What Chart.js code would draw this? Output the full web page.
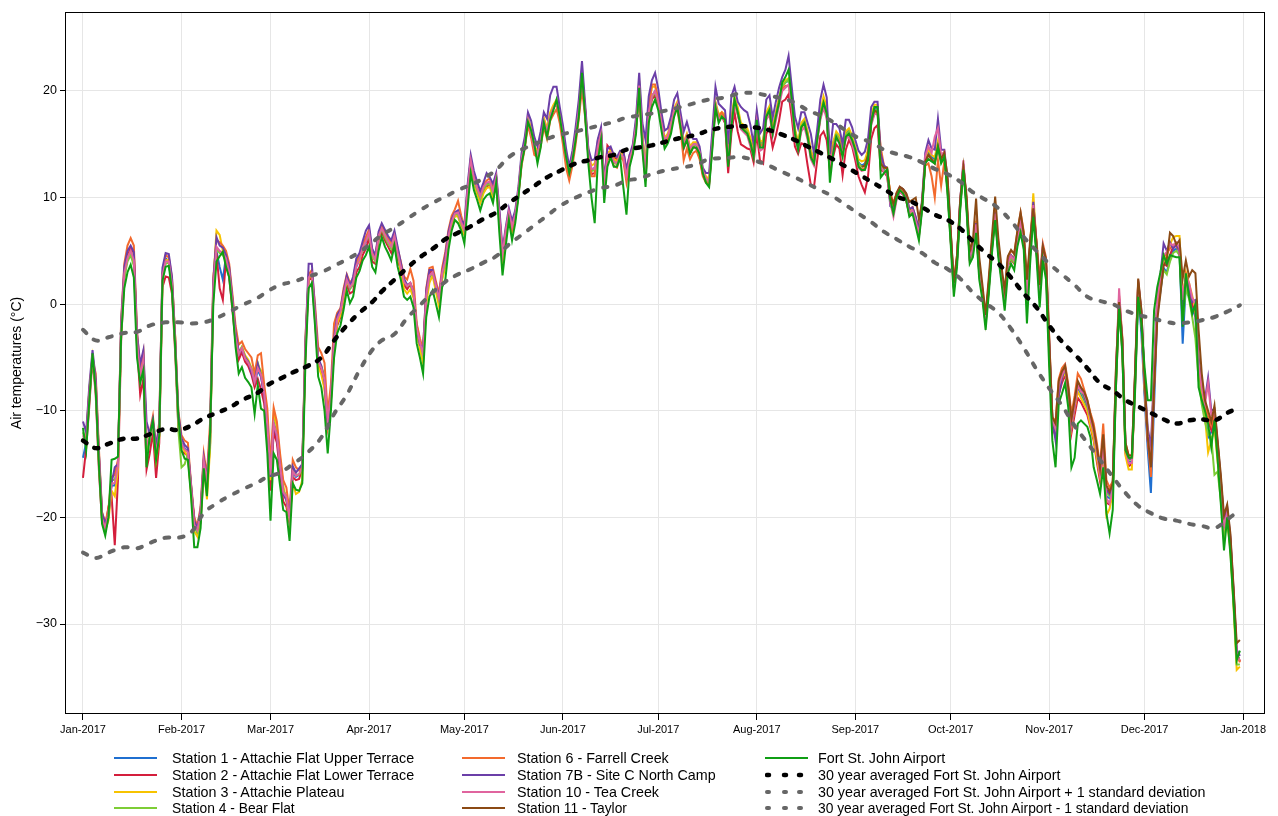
<!DOCTYPE html>
<html>
<head>
<meta charset="utf-8">
<script src="https://cdn.jsdelivr.net/npm/chart.js@4/dist/chart.umd.min.js"></script>
<style>
  html, body { margin: 0; padding: 0; background: #fff; }
  #wrap { position: relative; width: 1278px; height: 816px; }
  #legend { position: absolute; left: 0; top: 0; width: 1278px; height: 816px; pointer-events: none;
            font-family: "Liberation Sans", Arial, sans-serif; color: #000; }
  .lg-text { position: absolute; height: 17px; line-height: 17px; white-space: nowrap; font-size: 14.3px; }
  .lg-text.small { font-size: 13.8px; }
  .lg-sw { position: absolute; }
</style>
</head>
<body>
<div id="wrap">
  <canvas id="myChart" width="1278" height="816"></canvas>
  <div id="legend"></div>
</div>
<script>
// x axis: day of year 2017 (0 = 1 Jan 2017)
const monthStarts = [0, 31, 59, 90, 120, 151, 181, 212, 243, 273, 304, 334, 365];
const monthLabels = ['Jan-2017', 'Feb-2017', 'Mar-2017', 'Apr-2017', 'May-2017', 'Jun-2017',
  'Jul-2017', 'Aug-2017', 'Sep-2017', 'Oct-2017', 'Nov-2017', 'Dec-2017', 'Jan-2018'];
const tempTicks = [-30, -20, -10, 0, 10, 20];

// daily mean air temperatures, 2017 (one value per day from 1 Jan)
const fortStJohn = [
  -11.6,-13.7,-9.0,-4.6,-8.1,-15.0,-20.6,-21.7,-20.0,-14.6,
  -14.5,-14.3,-3.0,1.5,3.0,3.7,2.5,-5.0,-7.4,-6.2,
  -15.3,-12.3,-11.0,-14.6,-12.3,2.2,3.5,3.6,1.3,-4.0,
  -10.6,-13.7,-14.5,-14.6,-18.0,-22.8,-22.8,-21.0,-15.4,-18.0,
  -12.0,0.0,4.0,4.5,4.9,3.5,2.5,-0.3,-4.0,-6.5,
  -5.9,-6.9,-7.3,-7.8,-10.3,-7.6,-9.8,-10.0,-14.0,-20.3,
  -14.0,-14.6,-17.0,-19.3,-19.5,-22.2,-16.8,-17.4,-17.5,-16.8,
  -5.3,1.5,2.0,-2.0,-6.8,-7.8,-10.0,-14.0,-10.0,-5.0,
  -2.7,-2.0,-0.5,1.3,0.1,0.7,2.5,3.1,4.1,4.6,
  5.4,3.5,3.0,5.0,6.3,5.4,4.8,4.1,5.5,3.5,
  2.3,0.7,0.4,0.7,-0.3,-3.7,-5.0,-6.5,-1.2,0.7,
  1.3,0.1,-1.2,1.6,2.3,5.1,6.9,7.9,7.6,6.9,
  5.7,9.0,12.3,10.7,9.8,8.8,9.8,10.2,10.4,9.5,
  11.4,6.7,2.7,5.4,7.9,6.0,7.6,10.0,13.2,14.7,
  17.1,16.3,15.0,13.2,14.7,17.0,15.7,17.3,18.2,19.2,
  17.6,15.7,13.8,12.3,13.5,15.4,17.6,21.7,17.6,13.2,
  10.0,7.6,13.5,15.4,9.5,12.9,13.8,12.9,12.9,13.8,
  11.0,8.4,12.9,14.1,16.0,20.3,14.5,11.0,17.0,18.5,
  19.2,18.2,16.3,14.6,15.1,16.0,17.6,18.5,16.6,14.7,
  15.4,14.1,14.7,14.7,14.1,12.3,11.4,11.0,14.5,18.5,
  17.0,17.6,17.3,12.9,16.6,19.2,18.0,16.6,16.3,16.0,
  15.1,13.8,17.3,14.7,14.7,17.6,18.2,16.0,17.6,18.9,
  20.8,21.3,22.0,19.2,16.0,14.5,16.6,17.0,15.7,13.8,
  13.2,15.4,17.6,18.9,17.9,11.4,14.1,15.7,15.1,13.8,
  15.7,16.0,15.4,14.5,12.9,12.6,12.6,13.5,17.0,18.5,
  18.5,11.9,12.3,12.6,9.8,8.5,10.0,10.7,10.4,9.8,
  8.2,8.5,7.3,6.0,8.8,13.2,13.6,13.4,13.2,14.7,
  13.2,13.8,10.4,5.7,0.7,3.5,8.8,12.6,8.8,3.8,
  4.4,6.7,2.3,0.4,-2.4,1.0,4.8,7.9,4.4,2.0,
  -0.6,2.9,3.8,3.2,5.4,6.7,5.1,-1.8,3.8,8.2,
  4.4,-0.3,4.1,2.3,-5.9,-12.8,-15.3,-9.3,-8.4,-7.4,
  -9.7,-15.3,-14.4,-11.2,-10.9,-11.2,-11.5,-12.5,-15.3,-16.5,
  -17.8,-15.3,-19.6,-21.5,-19.3,-7.8,-0.3,-4.6,-13.7,-14.4,
  -14.4,-8.4,0.7,-1.8,-5.9,-9.0,-9.0,-0.6,1.6,3.0,
  4.6,3.8,4.6,4.5,4.4,4.4,-2.1,2.9,0.7,-0.9,
  0.0,-7.8,-9.0,-10.0,-11.2,-13.4,-10.9,-14.6,-18.7,-23.1,
  -20.0,-23.4,-28.1,-33.4,-32.5
];

const station1 = [
  -14.4,-13.0,-8.5,-4.8,-7.5,-14.0,-19.8,-20.8,-19.5,-17.0,
  -17.0,-15.0,-2.0,3.0,4.5,5.0,4.2,-3.5,-7.0,-5.0,
  -13.0,-13.0,-11.5,-14.0,-12.0,2.8,4.3,4.0,1.5,-3.5,
  -11.0,-13.0,-13.5,-13.8,-17.0,-20.5,-21.2,-19.5,-14.8,-16.5,
  -12.5,1.5,5.0,3.5,2.3,4.5,2.8,0.0,-3.0,-4.8,
  -4.2,-5.0,-5.6,-6.2,-7.5,-6.2,-6.8,-8.5,-11.5,-16.0,
  -11.5,-12.5,-15.0,-17.5,-18.0,-20.0,-15.8,-16.2,-16.0,-15.6,
  -4.0,2.5,2.8,-1.0,-5.5,-6.0,-7.0,-11.0,-8.5,-3.5,
  -1.5,-0.8,0.8,2.3,1.5,1.8,3.5,4.2,5.3,5.8,
  6.6,4.6,4.2,6.3,7.0,6.4,5.8,5.3,6.2,4.6,
  3.5,2.0,1.6,1.8,1.0,-2.2,-3.6,-4.6,0.6,2.5,
  3.0,1.8,0.5,2.8,4.0,6.2,7.6,8.4,8.5,7.6,
  6.8,10.5,13.5,11.8,10.8,10.0,10.8,11.2,11.4,10.5,
  11.9,8.2,4.6,6.8,8.6,7.2,8.4,10.6,13.6,15.0,
  17.4,16.0,14.6,14.2,15.4,17.3,16.3,17.8,18.5,19.0,
  17.8,15.9,13.6,12.4,13.8,15.8,18.2,21.4,18.0,14.0,
  12.6,12.8,14.8,16.0,11.2,14.0,14.2,13.4,13.2,14.0,
  13.8,12.0,13.6,14.6,16.8,20.6,15.8,12.5,18.0,19.5,
  20.0,19.0,17.0,15.4,15.8,16.8,18.2,18.8,17.2,15.0,
  15.8,14.6,15.0,15.0,14.3,12.5,11.8,11.5,15.2,18.8,
  17.6,17.9,17.6,14.0,17.2,19.3,18.2,16.8,16.6,16.3,
  15.3,14.2,17.6,15.0,15.2,17.8,18.4,16.4,17.8,19.2,
  20.5,20.8,21.0,19.0,16.3,15.0,16.8,17.2,16.0,14.2,
  13.6,15.6,17.8,19.0,18.0,13.5,15.0,16.0,15.6,14.5,
  16.0,16.3,15.6,14.6,13.3,13.0,13.2,14.2,17.4,18.3,
  18.3,13.2,12.6,12.4,10.0,9.0,10.2,10.8,10.6,10.0,
  8.6,8.8,7.8,6.6,9.2,13.6,14.2,13.8,13.6,15.0,
  13.6,14.0,11.0,6.2,1.6,4.2,9.4,12.8,9.4,4.4,
  5.0,7.4,3.0,1.0,-1.6,1.6,5.4,8.4,5.0,2.6,
  0.6,3.8,4.4,4.0,6.2,7.6,6.0,0.8,5.0,9.2,
  5.2,1.2,5.0,3.6,-4.0,-10.8,-11.6,-7.8,-6.8,-6.0,
  -8.2,-11.2,-9.4,-7.8,-8.4,-9.0,-9.8,-11.0,-12.2,-14.0,
  -15.8,-13.0,-18.0,-18.2,-17.2,-7.2,0.4,-3.8,-13.5,-14.8,
  -14.8,-7.6,1.2,-2.7,-8.6,-13.6,-17.7,-9.5,-1.0,1.2,
  3.4,3.0,4.2,5.0,5.2,5.0,-3.7,1.8,0.8,-0.4,
  -1.2,-6.5,-8.8,-10.2,-12.5,-12.0,-11.2,-14.0,-17.5,-21.0,
  -19.8,-22.6,-27.6,-33.2,-33.2
];

const station2 = [
  -16.3,-13.5,-9.5,-5.0,-8.5,-15.5,-20.5,-21.0,-19.0,-18.0,
  -22.6,-16.5,-3.5,2.5,4.5,5.3,4.8,-4.0,-8.5,-7.0,
  -15.5,-14.0,-12.0,-16.3,-13.0,1.6,2.6,2.5,1.0,-4.5,
  -11.5,-13.8,-14.0,-14.2,-17.5,-20.0,-21.5,-20.5,-15.5,-17.5,
  -13.0,1.0,4.8,1.5,0.4,4.2,2.5,-0.5,-3.5,-5.2,
  -4.5,-5.4,-5.8,-6.6,-7.8,-7.0,-8.0,-9.3,-12.5,-17.5,
  -12.0,-13.0,-15.8,-18.5,-19.0,-20.6,-16.2,-16.5,-16.4,-15.4,
  -4.5,2.2,2.6,-1.5,-5.8,-6.2,-7.8,-11.5,-9.2,-4.0,
  -2.0,-1.2,0.3,1.8,1.0,1.2,3.0,3.5,4.6,5.2,
  6.2,4.0,3.8,6.0,6.8,6.0,5.4,4.8,5.9,4.2,
  3.2,1.8,1.4,1.9,1.2,-2.5,-3.8,-4.4,0.8,2.8,
  3.3,1.6,0.2,2.5,3.8,6.0,7.4,8.3,8.6,7.4,
  6.6,10.2,13.2,11.5,10.4,9.6,10.5,11.0,11.3,10.4,
  11.6,8.0,4.4,6.6,8.4,7.0,8.2,10.3,13.3,14.8,
  17.2,16.2,14.8,14.0,15.2,17.0,16.1,17.6,18.4,18.8,
  17.5,15.6,13.5,12.2,13.6,15.5,18.0,21.0,18.3,14.5,
  12.2,12.3,15.4,16.2,11.0,14.9,14.5,13.8,13.6,14.2,
  14.4,12.6,14.0,14.5,16.6,20.2,15.2,11.6,17.6,19.2,
  19.6,18.8,16.8,15.0,15.5,16.5,18.0,18.6,16.8,14.6,
  15.4,14.2,14.8,14.6,13.8,12.2,11.5,11.2,14.8,18.2,
  17.3,17.6,17.0,12.3,16.0,18.0,16.2,15.0,14.8,14.6,
  14.5,13.3,16.0,13.5,13.2,16.0,16.5,14.7,15.8,17.2,
  19.0,19.2,19.7,17.5,14.8,14.1,15.1,15.0,13.0,11.2,
  11.0,13.5,15.8,16.2,15.4,12.6,13.8,15.0,14.6,12.1,
  14.5,15.4,14.8,13.5,12.0,11.2,10.5,12.0,15.5,16.5,
  16.8,12.6,12.4,12.0,9.6,8.6,10.0,10.5,10.3,9.7,
  8.4,8.6,7.6,6.3,9.0,13.4,14.0,13.6,13.4,14.8,
  13.4,13.9,10.8,6.0,1.4,4.0,9.2,12.7,9.2,4.2,
  4.8,7.2,2.8,0.8,-1.9,1.4,5.2,8.2,4.8,2.4,
  0.4,3.6,4.2,3.8,6.0,7.3,5.8,0.4,4.6,8.8,
  5.0,0.8,4.8,3.2,-4.5,-11.5,-12.4,-8.5,-7.4,-6.6,
  -8.6,-12.1,-10.4,-8.8,-9.2,-9.8,-10.4,-11.6,-12.8,-14.8,
  -16.6,-13.8,-18.6,-18.8,-17.8,-7.8,0.0,-4.4,-14.0,-15.2,
  -15.0,-8.0,1.4,-1.5,-8.0,-12.8,-15.2,-7.4,-0.2,1.8,
  3.8,3.6,4.6,5.4,5.6,5.2,-1.0,2.2,1.4,0.0,
  -0.8,-6.0,-8.2,-9.6,-11.0,-11.8,-10.6,-13.6,-17.0,-20.6,
  -19.5,-22.2,-27.2,-32.8,-33.5
];

const station3 = [
  -12.5,-12.8,-8.0,-5.0,-7.6,-14.5,-20.0,-21.2,-20.3,-17.5,
  -18.0,-15.5,-2.5,2.8,4.4,4.9,4.3,-3.0,-6.5,-4.8,
  -13.4,-12.5,-11.0,-14.6,-12.5,2.5,4.1,4.2,2.2,-3.0,
  -10.8,-13.2,-13.8,-14.3,-17.8,-21.3,-21.8,-20.0,-15.0,-18.3,
  -13.5,2.0,6.9,6.5,5.0,4.6,3.2,0.5,-2.8,-4.5,
  -4.0,-4.8,-5.2,-6.0,-7.2,-5.8,-6.2,-8.4,-11.0,-16.5,
  -10.2,-11.5,-14.5,-17.0,-18.5,-20.3,-16.8,-17.8,-17.6,-16.5,
  -4.2,2.3,3.0,-1.0,-5.8,-6.6,-8.0,-11.3,-9.0,-4.2,
  -1.8,-1.0,0.5,2.0,1.8,2.0,3.8,4.0,5.5,6.2,
  6.8,4.8,4.3,6.6,7.2,6.6,6.0,5.5,6.6,5.0,
  3.0,1.4,1.0,1.4,0.6,-2.8,-4.2,-5.5,0.0,2.0,
  2.7,1.2,-0.2,2.3,3.5,5.8,7.3,8.3,8.2,7.3,
  6.5,10.0,13.0,11.4,10.4,9.5,10.4,10.9,11.0,10.0,
  11.2,7.5,3.8,6.2,8.2,6.8,8.0,10.4,13.5,15.2,
  17.5,16.5,14.8,14.4,15.6,17.5,16.5,18.0,18.7,19.2,
  18.0,16.2,14.0,12.6,14.0,16.0,18.5,22.0,18.2,14.2,
  13.0,13.2,15.0,16.3,11.4,14.2,14.4,13.6,13.4,14.3,
  14.0,12.2,13.7,14.8,17.0,21.0,16.0,12.8,18.5,20.4,
  20.4,19.4,17.3,15.6,16.0,17.0,18.4,19.0,17.4,15.2,
  16.0,14.8,15.2,15.2,14.5,12.6,12.0,11.7,15.5,19.0,
  17.8,18.0,17.8,14.5,17.4,19.5,18.5,17.0,16.8,16.5,
  15.6,14.5,17.8,15.2,15.4,18.0,18.6,16.6,18.0,19.4,
  20.6,21.0,21.2,19.2,16.5,15.2,17.0,17.4,16.2,14.4,
  13.8,16.0,18.0,19.5,18.5,13.8,15.2,16.2,15.8,14.8,
  16.2,16.5,15.8,14.8,13.6,13.4,13.5,14.5,17.8,18.7,
  18.7,13.6,12.8,12.8,10.2,9.2,10.5,11.0,10.8,10.2,
  8.8,9.0,8.0,6.8,9.4,13.8,14.5,14.0,13.8,15.3,
  13.8,14.3,11.3,6.5,1.8,4.4,9.6,13.0,9.6,4.6,
  5.3,7.8,3.3,1.2,-1.4,1.9,5.7,8.7,5.3,2.9,
  0.9,4.0,4.6,4.3,6.5,7.9,6.3,1.0,5.6,10.4,
  5.6,1.4,5.2,3.8,-4.2,-11.2,-12.0,-8.0,-7.0,-6.3,
  -8.4,-11.6,-9.8,-8.2,-8.8,-9.4,-10.0,-11.4,-12.6,-14.5,
  -16.2,-13.4,-19.8,-19.2,-17.6,-7.4,0.6,-4.0,-14.2,-15.5,
  -15.5,-7.0,2.2,-1.0,-7.6,-12.0,-14.2,-6.4,0.4,2.4,
  4.0,4.5,5.6,6.3,6.4,6.4,0.5,3.0,2.0,0.8,
  -0.4,-5.6,-8.0,-10.5,-13.9,-12.8,-11.6,-14.8,-18.0,-21.8,
  -20.4,-23.0,-28.4,-34.3,-34.0
];

const station4 = [
  -12.0,-13.2,-8.8,-4.9,-7.8,-14.6,-20.3,-21.3,-20.0,-16.5,
  -16.5,-14.8,-2.8,2.5,4.0,4.6,3.6,-3.8,-7.0,-5.5,
  -13.8,-12.8,-11.4,-14.2,-12.2,2.5,3.8,3.9,1.8,-3.8,
  -11.8,-15.3,-15.0,-14.0,-17.2,-21.0,-21.4,-19.8,-14.6,-16.8,
  -13.2,1.2,5.2,4.8,4.6,4.0,3.0,0.3,-3.0,-4.6,
  -4.0,-4.9,-5.4,-6.0,-7.0,-5.5,-6.5,-8.2,-11.2,-15.8,
  -11.0,-12.2,-15.0,-17.4,-18.2,-20.2,-15.5,-16.0,-16.0,-15.3,
  -3.8,2.6,2.8,-1.2,-5.3,-5.8,-6.8,-10.5,-8.3,-3.5,
  -1.2,-0.6,1.0,2.4,1.4,1.9,3.7,4.3,5.2,6.0,
  6.4,4.5,4.0,6.2,7.1,6.3,5.7,5.2,6.3,4.6,
  3.6,2.2,1.7,1.9,1.0,-2.0,-3.5,-4.8,0.7,2.6,
  3.0,1.7,0.4,2.7,3.9,6.3,7.7,8.5,8.4,7.5,
  6.9,10.4,13.3,11.6,10.7,9.9,10.8,11.2,11.3,10.4,
  11.8,8.1,4.6,6.8,8.6,7.3,8.5,10.6,13.7,15.1,
  17.3,16.1,14.5,14.0,15.3,17.1,16.2,17.7,18.4,19.0,
  17.6,15.8,13.7,12.3,13.7,15.7,18.1,21.5,17.9,13.8,
  12.5,12.6,14.7,15.9,11.1,13.9,14.1,13.3,13.1,14.0,
  13.7,11.9,13.5,14.5,16.7,20.5,15.6,12.3,17.9,19.4,
  19.9,18.9,16.9,15.3,15.7,16.7,18.1,18.7,17.1,14.9,
  15.7,14.5,14.9,14.9,14.2,12.4,11.7,11.4,15.0,18.7,
  17.5,17.8,17.5,13.8,17.0,19.2,18.1,16.7,16.5,16.2,
  15.2,14.1,17.5,15.0,15.1,17.7,18.3,16.3,17.7,19.1,
  20.4,20.8,21.1,18.9,16.2,14.9,16.7,17.1,15.9,14.1,
  13.5,15.6,17.8,18.9,17.9,13.4,14.8,15.9,15.5,14.4,
  15.9,16.2,15.5,14.5,13.2,12.9,13.0,14.0,17.3,18.2,
  18.2,13.0,12.5,12.4,9.9,8.9,10.1,10.7,10.5,9.9,
  8.5,8.7,7.6,6.4,9.0,13.5,14.0,13.6,13.4,14.9,
  13.5,14.0,10.9,6.1,1.5,4.1,9.3,12.8,9.3,4.3,
  4.9,7.3,2.9,0.9,-1.7,1.5,5.3,8.3,4.9,2.5,
  0.5,3.7,4.3,3.9,6.1,7.5,5.9,0.6,4.8,9.0,
  5.1,1.0,4.9,3.5,-4.1,-11.0,-11.8,-7.9,-6.9,-6.1,
  -8.1,-11.0,-9.2,-7.6,-8.2,-8.8,-9.6,-10.8,-12.0,-13.8,
  -15.7,-12.8,-17.6,-18.0,-17.0,-7.0,0.3,-3.6,-13.3,-14.6,
  -14.6,-7.4,1.6,-1.2,-7.8,-12.4,-14.6,-6.8,0.0,1.5,
  3.2,2.8,4.0,4.8,5.0,4.6,-1.6,1.5,0.5,-1.2,
  -3.2,-7.0,-9.4,-11.0,-12.2,-12.5,-16.0,-15.7,-18.4,-22.2,
  -20.0,-22.8,-27.8,-33.8,-33.8
];

const station6 = [
  -12.8,-12.5,-8.0,-5.2,-6.5,-13.5,-19.5,-20.5,-19.2,-16.2,
  -16.0,-14.6,-1.5,3.8,5.5,6.2,5.5,-2.5,-6.0,-4.5,
  -12.5,-12.0,-10.5,-13.5,-11.0,3.0,4.6,4.4,2.5,-3.0,
  -10.0,-12.3,-12.8,-13.0,-16.8,-20.0,-20.8,-19.0,-14.0,-16.0,
  -11.0,2.5,6.0,5.8,5.5,5.0,3.8,1.0,-2.0,-3.8,
  -3.5,-4.2,-4.6,-5.0,-6.5,-4.8,-4.6,-7.5,-9.8,-15.0,
  -9.7,-11.0,-14.0,-16.5,-17.2,-19.5,-14.6,-15.3,-15.6,-15.0,
  -3.0,2.8,3.2,0.0,-4.0,-4.6,-5.5,-10.3,-7.5,-1.8,
  -0.8,-0.4,1.5,2.8,2.0,2.4,4.0,4.6,5.5,6.3,
  7.0,5.0,4.5,6.5,7.3,6.8,6.2,5.8,6.5,5.2,
  4.0,2.6,2.3,3.3,2.2,-1.8,-3.2,-4.3,1.5,3.4,
  3.5,2.2,1.0,3.4,4.9,7.0,8.3,8.9,9.7,8.3,
  7.2,10.8,13.6,12.0,11.0,10.3,11.2,11.6,11.8,10.8,
  12.0,8.5,4.8,6.6,8.4,7.0,8.0,10.2,13.0,14.6,
  16.8,15.6,14.0,13.8,14.8,16.6,15.5,17.2,17.8,18.3,
  17.0,15.0,12.8,11.6,13.0,15.0,17.4,20.2,17.5,14.0,
  12.0,12.0,14.5,15.5,10.7,13.5,14.0,13.0,12.8,13.8,
  13.5,11.4,13.2,14.2,16.3,19.5,15.0,11.6,18.2,20.6,
  20.6,19.2,17.0,15.2,15.6,16.4,18.0,18.2,16.4,13.5,
  14.6,13.6,14.2,14.4,13.6,12.0,11.4,11.3,15.3,18.6,
  17.6,18.0,17.4,14.2,17.0,19.0,17.8,16.6,16.4,16.0,
  15.0,14.0,17.4,14.8,15.0,17.5,18.1,16.2,17.6,19.0,
  20.2,20.5,20.5,18.6,16.0,14.8,16.5,17.0,15.8,14.0,
  13.5,15.5,17.5,18.6,17.6,13.3,14.7,15.7,15.3,14.2,
  15.6,15.8,15.3,14.2,13.0,12.6,12.8,13.8,17.0,17.9,
  18.0,14.7,13.0,12.6,10.5,9.5,10.4,11.0,10.6,10.2,
  8.9,9.1,8.1,6.9,9.5,13.0,13.2,12.0,10.0,13.5,
  11.1,13.4,11.5,6.8,2.0,4.6,9.4,12.9,9.8,4.8,
  5.4,7.6,3.4,1.4,-1.2,2.0,5.8,8.8,5.6,3.0,
  1.2,4.4,5.0,4.8,6.8,8.6,6.8,1.8,5.6,9.4,
  6.0,2.4,5.7,4.4,-3.0,-10.6,-11.0,-7.0,-6.0,-5.6,
  -7.5,-10.3,-8.6,-6.5,-7.0,-8.0,-9.0,-10.2,-11.2,-13.0,
  -15.2,-11.2,-16.5,-17.2,-16.6,-6.2,0.8,-3.0,-13.0,-14.2,
  -14.2,-6.6,2.0,-0.8,-7.2,-12.6,-16.2,-8.0,-0.5,2.0,
  4.4,4.8,5.2,5.6,5.4,5.0,0.0,2.8,1.8,0.5,
  0.2,-5.4,-7.6,-9.2,-10.6,-11.4,-10.2,-13.2,-16.6,-20.4,
  -19.2,-22.0,-27.0,-32.6,-33.6
];

const station7B = [
  -11.0,-12.0,-7.6,-4.3,-7.0,-14.0,-19.6,-20.5,-19.8,-16.8,
  -15.3,-15.0,-1.8,3.5,5.0,5.5,4.9,-2.8,-5.6,-4.3,
  -11.0,-12.2,-10.8,-13.2,-11.5,3.4,4.8,4.7,2.6,-3.2,
  -10.2,-12.6,-13.2,-13.5,-17.0,-20.3,-21.0,-19.3,-14.4,-16.4,
  -12.0,2.2,6.3,5.5,5.3,4.6,3.5,0.6,-2.6,-4.4,
  -4.3,-5.0,-5.4,-6.4,-7.3,-5.6,-6.7,-8.6,-11.5,-16.2,
  -11.3,-12.4,-15.2,-17.8,-18.4,-19.8,-15.2,-15.8,-15.4,-15.0,
  -3.5,3.8,3.8,-0.5,-5.0,-5.8,-7.2,-11.6,-8.8,-3.2,
  -1.0,-0.5,1.2,2.7,1.7,2.6,4.3,4.8,5.9,6.9,
  7.4,5.2,4.6,6.8,7.6,7.0,6.4,6.0,6.9,5.4,
  3.9,2.4,1.8,2.0,1.2,-2.3,-3.8,-4.1,1.3,3.2,
  3.2,1.9,0.7,3.0,4.6,6.8,8.0,8.6,8.8,7.9,
  7.5,11.2,14.0,12.5,11.5,10.6,11.4,12.3,11.9,11.3,
  12.3,9.0,5.1,7.2,9.0,7.8,8.8,11.0,14.2,15.7,
  18.0,17.2,15.7,14.8,16.2,18.0,17.4,19.6,20.4,20.4,
  18.5,16.8,14.6,12.9,14.4,16.6,19.2,22.8,18.8,14.6,
  13.5,13.6,15.5,16.6,11.6,14.6,14.8,14.0,13.8,14.4,
  14.4,12.6,14.0,15.0,17.5,21.7,17.0,15.4,19.5,21.0,
  21.7,20.2,18.0,16.3,16.5,17.6,19.2,19.8,18.0,16.2,
  17.1,16.0,15.5,15.5,14.8,12.8,12.3,12.3,16.2,20.4,
  18.8,18.5,18.2,15.0,19.5,20.4,19.0,18.5,18.2,18.0,
  16.8,15.0,18.2,16.0,16.5,19.2,19.6,17.5,19.0,20.3,
  21.3,22.0,23.3,20.4,17.6,16.5,18.0,18.0,17.0,16.0,
  14.1,16.4,19.2,20.6,19.4,14.1,16.9,16.9,16.5,15.0,
  17.3,17.3,16.6,15.4,14.4,14.0,14.3,15.5,18.5,19.0,
  19.0,14.1,13.0,12.8,9.2,9.0,10.4,11.0,10.8,10.4,
  8.9,9.1,8.2,7.0,9.8,14.2,15.4,14.6,14.5,17.4,
  14.5,14.5,11.8,6.8,1.7,4.3,9.8,13.2,9.6,4.4,
  5.2,7.6,3.1,1.1,-1.5,1.8,5.6,8.6,5.2,2.8,
  0.8,4.0,4.6,4.2,6.4,7.8,6.3,1.2,5.5,9.6,
  5.6,1.6,5.4,4.0,-3.5,-10.8,-12.8,-8.6,-7.0,-5.9,
  -8.0,-11.4,-9.6,-7.4,-8.0,-8.6,-9.4,-10.6,-11.8,-13.6,
  -15.6,-12.6,-17.4,-17.8,-17.0,-6.8,0.5,-3.4,-13.2,-14.5,
  -14.5,-6.8,2.1,-0.6,-7.0,-11.6,-13.4,-6.2,0.8,2.8,
  5.7,5.0,5.8,5.2,5.6,5.0,-0.6,2.4,1.6,0.2,
  0.4,-5.0,-7.4,-9.0,-6.9,-10.0,-9.8,-13.0,-16.4,-20.2,
  -19.0,-21.8,-26.8,-32.4,-33.0
];

const station10 = [
  -12.3,-13.0,-8.3,-4.7,-7.7,-14.3,-20.1,-21.0,-19.6,-16.8,
  -16.8,-15.2,-2.4,2.9,4.3,5.0,4.1,-3.4,-6.8,-5.2,
  -13.2,-12.6,-11.2,-14.0,-12.1,2.7,4.0,4.0,1.9,-3.6,
  -10.9,-13.1,-13.6,-13.9,-17.2,-20.7,-21.2,-19.6,-14.7,-16.6,
  -12.3,1.6,5.4,5.0,4.8,4.3,3.0,0.2,-3.1,-4.7,
  -4.1,-5.1,-5.5,-6.1,-7.3,-6.0,-6.6,-8.3,-11.3,-16.0,
  -11.2,-12.3,-15.1,-17.6,-18.1,-20.1,-15.7,-16.1,-15.9,-15.4,
  -4.0,2.5,2.9,-1.1,-5.4,-6.0,-7.1,-10.8,-8.6,-3.6,
  -1.4,-0.7,0.9,2.3,1.6,2.0,3.6,4.2,5.3,5.9,
  6.7,4.7,4.2,6.4,7.1,6.5,5.9,5.4,6.4,4.8,
  3.5,2.1,1.7,2.0,1.1,-2.2,-3.6,-4.7,0.8,2.7,
  3.0,1.8,0.5,2.9,4.1,6.4,7.7,8.5,8.6,7.7,
  6.9,10.6,13.5,11.8,10.9,10.1,11.0,11.4,11.5,10.6,
  11.9,8.3,4.7,6.9,8.7,7.3,8.4,10.7,13.7,15.0,
  17.3,16.1,14.6,14.1,15.3,17.2,16.2,17.7,18.4,18.9,
  17.7,15.9,13.7,12.4,13.8,15.8,18.2,21.3,18.0,14.0,
  12.7,12.7,14.8,16.0,11.2,14.0,14.2,13.4,13.2,14.1,
  13.8,12.0,13.6,14.6,16.8,20.5,15.7,12.4,18.0,19.5,
  20.0,19.0,17.0,15.4,15.8,16.8,18.2,18.8,17.2,15.0,
  15.8,14.6,15.0,15.0,14.3,12.5,11.8,11.5,15.1,18.8,
  17.4,17.5,17.2,13.6,16.8,18.9,17.8,16.4,16.1,15.8,
  14.8,13.8,17.0,14.4,14.6,17.3,17.8,15.8,17.2,18.6,
  20.0,20.3,20.6,18.5,15.6,14.5,16.2,16.6,15.4,13.6,
  13.0,15.2,17.3,18.4,17.4,13.2,14.5,15.6,15.1,14.0,
  15.5,15.8,15.0,14.0,12.8,12.5,12.6,13.6,16.8,17.8,
  17.9,12.9,12.4,12.2,9.5,8.2,9.8,10.5,10.3,9.8,
  8.6,8.8,7.8,6.6,9.2,13.9,14.8,14.2,15.7,16.5,
  14.0,14.3,11.2,6.3,1.6,4.3,9.6,13.5,9.5,4.5,
  5.1,7.5,3.1,1.0,-1.6,1.7,5.5,8.5,5.1,2.7,
  0.7,3.9,4.5,4.1,6.3,7.7,6.1,0.9,5.2,9.3,
  5.3,1.2,5.1,3.7,-3.8,-10.9,-11.7,-7.7,-6.7,-6.0,
  -8.3,-11.3,-9.5,-7.6,-8.2,-8.4,-9.2,-10.8,-12.0,-13.9,
  -16.0,-13.2,-18.2,-18.7,-17.4,-6.5,1.5,-3.6,-13.6,-14.9,
  -14.9,-7.2,2.3,-0.9,-7.4,-12.2,-14.8,-6.6,0.5,2.5,
  4.6,4.9,5.7,5.5,5.8,5.3,0.4,2.6,2.0,0.6,
  0.0,-5.5,-7.8,-9.4,-7.4,-10.4,-10.0,-13.4,-17.0,-20.8,
  -19.6,-22.4,-27.4,-33.0,-33.4
];

// Station 11 record starts on day 245 (3 Sep 2017)
const station11FirstDay = 245;
const station11 = [
  12.9,13.0,14.0,17.2,18.2,
  18.0,13.2,12.8,12.8,10.2,9.4,10.4,11.0,10.8,10.4,
  9.6,9.8,10.0,8.0,9.5,13.4,14.0,13.6,13.2,14.8,
  13.6,14.2,12.0,7.0,2.0,4.6,9.8,12.9,10.2,5.0,
  6.0,9.9,4.4,1.8,-1.0,2.5,6.4,10.1,6.2,3.5,
  1.3,4.5,5.1,4.7,6.9,8.6,6.6,2.3,6.0,9.0,
  5.8,1.8,5.4,4.2,-3.2,-10.6,-11.2,-7.2,-6.3,-5.8,
  -7.8,-10.8,-9.0,-7.2,-7.8,-8.2,-9.0,-10.4,-11.6,-13.4,
  -15.4,-12.2,-17.0,-17.6,-16.8,-6.0,0.2,-3.2,-13.0,-14.2,
  -14.2,-6.4,2.4,-0.5,-7.0,-12.4,-15.3,-7.8,-1.5,1.0,
  3.6,4.2,6.7,6.4,5.6,6.0,2.4,4.1,2.6,3.2,
  2.9,-2.4,-6.5,-9.0,-10.0,-11.0,-9.5,-12.8,-16.0,-19.8,
  -18.8,-21.5,-26.5,-31.8,-31.5
];

// 30-year normals, Fort St. John Airport
const normalDays = [0,4,8,13,17,21,26,30,34,38,42,46,50,55,58,62,66,70,75,79,
  83,87,91,94,98,102,106,110,114,118,122,126,130,134,138,142,146,150,155,159,
  163,167,171,175,179,184,188,193,197,202,207,211,215,220,224,228,232,236,240,244,
  248,252,256,260,264,268,272,276,280,284,288,292,296,300,304,308,312,316,320,324,
  328,332,336,340,344,348,352,356,360,364];
const normalMean = [
  -12.8,-13.5,-13.1,-12.6,-12.6,-12.2,-11.7,-11.8,-11.4,-10.7,
  -10.2,-9.7,-9.0,-8.3,-7.6,-7.0,-6.4,-5.9,-5.0,-3.4,
  -2.0,-0.8,0.2,1.2,2.3,3.4,4.4,5.2,6.1,6.7,
  7.3,8.0,8.6,9.5,10.3,11.1,11.9,12.5,13.2,13.5,
  13.8,14.0,14.5,14.7,14.9,15.3,15.6,15.9,16.3,16.6,
  16.7,16.6,16.4,15.9,15.4,14.8,14.2,13.6,12.9,12.2,
  11.5,10.8,10.1,9.7,9.1,8.4,7.9,7.1,5.9,4.8,
  3.8,2.5,1.0,-0.3,-2.0,-3.5,-4.7,-6.0,-7.4,-8.1,
  -9.0,-9.6,-10.2,-10.8,-11.2,-10.9,-10.8,-10.9,-10.2,-9.7
];
const normalPlusSd = [
  -2.4,-3.4,-3.1,-2.7,-2.6,-2.0,-1.7,-1.7,-1.8,-1.7,
  -1.3,-0.7,-0.1,0.6,1.2,1.8,2.1,2.5,3.0,3.6,
  4.2,4.9,5.8,6.5,7.2,8.0,8.8,9.5,10.1,10.7,
  11.2,11.8,12.6,13.8,14.5,15.0,15.5,15.9,16.2,16.5,
  16.8,17.1,17.5,17.7,17.9,18.2,18.5,18.9,19.2,19.4,
  19.8,19.8,19.6,19.3,18.9,18.2,17.7,17.1,16.3,15.6,
  15.2,14.5,14.1,13.8,13.3,12.7,12.2,11.5,10.5,9.8,
  9.0,7.8,6.3,5.0,3.8,2.8,1.8,0.7,0.3,0.0,
  -0.6,-1.0,-1.3,-1.6,-1.8,-1.7,-1.5,-1.2,-0.7,-0.1
];
const normalMinusSd = [
  -23.3,-23.8,-23.3,-22.8,-22.9,-22.4,-21.9,-21.9,-21.4,-19.6,
  -18.7,-18.0,-17.4,-16.7,-16.2,-15.8,-15.0,-14.1,-12.5,-10.3,
  -8.5,-6.2,-4.3,-3.4,-2.8,-1.3,-0.1,1.1,2.1,2.8,
  3.3,3.9,4.5,5.6,6.5,7.4,8.3,9.2,10.0,10.5,
  10.9,11.1,11.6,11.8,12.2,12.6,12.8,13.1,13.6,13.7,
  13.8,13.5,13.1,12.4,11.9,11.3,10.7,10.1,9.3,8.5,
  7.7,6.8,6.1,5.4,4.8,3.9,3.3,2.4,1.1,0.1,
  -0.8,-2.3,-4.1,-6.1,-7.9,-9.5,-11.4,-13.0,-14.6,-16.2,
  -17.7,-18.9,-19.6,-20.1,-20.3,-20.6,-20.8,-21.0,-20.2,-19.3
];

const COLORS = {
  s1: '#1f6fd0', s2: '#d41e3c', s3: '#f7c300', s4: '#7dcd35', s6: '#f36a2d',
  s7b: '#6b3fa8', s10: '#e0649e', s11: '#8b4a14', fsj: '#0f9e14',
  mean: '#000000', sd: '#666666'
};

function points(values, firstDay) {
  return values.map((v, i) => ({ x: firstDay + i, y: v }));
}
function normalPoints(values) {
  return values.map((v, i) => ({ x: normalDays[i], y: v }));
}

const stationDefs = [
  { label: 'Station 1 - Attachie Flat Upper Terrace', data: points(station1, 0), color: COLORS.s1, order: 9 },
  { label: 'Station 2 - Attachie Flat Lower Terrace', data: points(station2, 0), color: COLORS.s2, order: 8 },
  { label: 'Station 3 - Attachie Plateau', data: points(station3, 0), color: COLORS.s3, order: 7 },
  { label: 'Station 4 - Bear Flat', data: points(station4, 0), color: COLORS.s4, order: 6 },
  { label: 'Station 6 - Farrell Creek', data: points(station6, 0), color: COLORS.s6, order: 5 },
  { label: 'Station 7B - Site C North Camp', data: points(station7B, 0), color: COLORS.s7b, order: 4 },
  { label: 'Station 10 - Tea Creek', data: points(station10, 0), color: COLORS.s10, order: 3 },
  { label: 'Station 11 - Taylor', data: points(station11, station11FirstDay), color: COLORS.s11, order: 2 },
  { label: 'Fort St. John Airport', data: points(fortStJohn, 0), color: COLORS.fsj, order: 1 }
];

const datasets = stationDefs.map(s => ({
  label: s.label,
  data: s.data,
  borderColor: s.color,
  backgroundColor: s.color,
  borderWidth: 2,
  pointRadius: 0,
  tension: 0,
  order: s.order
}));

datasets.push({
  label: '30 year averaged Fort St. John Airport',
  data: normalPoints(normalMean),
  borderColor: COLORS.mean, borderWidth: 4.5, borderDash: [4, 9.5], borderCapStyle: 'round',
  pointRadius: 0, tension: 0.4, order: 0
});
datasets.push({
  label: '30 year averaged Fort St. John Airport + 1 standard deviation',
  data: normalPoints(normalPlusSd),
  borderColor: COLORS.sd, borderWidth: 4, borderDash: [4.5, 10], borderCapStyle: 'round',
  pointRadius: 0, tension: 0.4, order: 0
});
datasets.push({
  label: '30 year averaged Fort St. John Airport - 1 standard deviation',
  data: normalPoints(normalMinusSd),
  borderColor: COLORS.sd, borderWidth: 4, borderDash: [4.5, 10], borderCapStyle: 'round',
  pointRadius: 0, tension: 0.4, order: 0
});

// one-pixel box around the plot area
const framePlugin = {
  id: 'frame',
  afterDraw(chart) {
    const { ctx, chartArea: a } = chart;
    ctx.save();
    ctx.strokeStyle = '#000';
    ctx.lineWidth = 1;
    ctx.strokeRect(a.left + 0.5, a.top + 0.5, a.right - a.left - 1, a.bottom - a.top - 1);
    ctx.restore();
  }
};

Chart.defaults.font.family = '"Liberation Sans", Arial, sans-serif';
Chart.defaults.color = '#000';

const ctx = document.getElementById('myChart').getContext('2d');
new Chart(ctx, {
  type: 'line',
  data: { datasets: datasets },
  options: {
    responsive: false,
    animation: false,
    devicePixelRatio: 1,
    layout: { padding: { left: 0, right: 13, top: 12, bottom: 72 } },
    plugins: { legend: { display: false }, tooltip: { enabled: false } },
    scales: {
      x: {
        type: 'linear',
        min: -5.66,
        max: 371.9,
        afterBuildTicks: s => { s.ticks = monthStarts.map(v => ({ value: v })); },
        afterFit: s => { s.height = 30; },
        ticks: {
          autoSkip: false, maxRotation: 0, padding: 3,
          font: { size: 11 }, color: '#000',
          callback: (v, i) => monthLabels[i]
        },
        grid: { color: '#e6e6e6', tickColor: '#000', tickLength: 6 },
        border: { display: false }
      },
      y: {
        min: -38.44,
        max: 27.41,
        afterBuildTicks: s => { s.ticks = tempTicks.map(v => ({ value: v })); },
        afterFit: s => { s.width = 65; },
        ticks: {
          padding: 3, font: { size: 12.5 }, color: '#000',
          callback: v => (v < 0 ? '\u2212' + Math.abs(v) : String(v))
        },
        grid: { color: '#e6e6e6', tickColor: '#000', tickLength: 5 },
        border: { display: false },
        title: {
          display: true, text: 'Air temperatures (°C)',
          font: { size: 14 }, color: '#000', padding: { top: 9, bottom: 0 }
        }
      }
    }
  },
  plugins: [framePlugin]
});

// HTML legend, three columns like the original figure
const legendEntries = [
  { text: 'Station 1 - Attachie Flat Upper Terrace', color: COLORS.s1, kind: 'line' },
  { text: 'Station 2 - Attachie Flat Lower Terrace', color: COLORS.s2, kind: 'line' },
  { text: 'Station 3 - Attachie Plateau', color: COLORS.s3, kind: 'line' },
  { text: 'Station 4 - Bear Flat', color: COLORS.s4, kind: 'line' },
  { text: 'Station 6 - Farrell Creek', color: COLORS.s6, kind: 'line' },
  { text: 'Station 7B - Site C North Camp', color: COLORS.s7b, kind: 'line' },
  { text: 'Station 10 - Tea Creek', color: COLORS.s10, kind: 'line' },
  { text: 'Station 11 - Taylor', color: COLORS.s11, kind: 'line' },
  { text: 'Fort St. John Airport', color: COLORS.fsj, kind: 'line' },
  { text: '30 year averaged Fort St. John Airport', color: COLORS.mean, kind: 'dots' },
  { text: '30 year averaged Fort St. John Airport + 1 standard deviation', color: COLORS.sd, kind: 'dots' },
  { text: '30 year averaged Fort St. John Airport - 1 standard deviation', color: COLORS.sd, kind: 'dots' }
];
const swatchLeft = [114, 462, 765];
const textLeft = [172, 517, 818];
const rowCenter = [758, 775, 792, 808];

const legendBox = document.getElementById('legend');
legendEntries.forEach((e, i) => {
  const col = Math.floor(i / 4), row = i % 4;
  const cy = rowCenter[row];
  const sw = document.createElementNS('http://www.w3.org/2000/svg', 'svg');
  sw.setAttribute('class', 'lg-sw');
  sw.setAttribute('width', '44');
  sw.setAttribute('height', '10');
  sw.style.left = swatchLeft[col] + 'px';
  sw.style.top = (cy - 5) + 'px';
  if (e.kind === 'line') {
    sw.innerHTML = '<line x1="0" y1="5" x2="43" y2="5" stroke="' + e.color + '" stroke-width="2.2"/>';
  } else {
    const w = e.color === COLORS.mean ? 4.5 : 4;
    sw.innerHTML = [2, 19, 34].map(x => '<line x1="' + x + '" y1="5" x2="' + (x + 2) + '" y2="5" stroke="' + e.color +
      '" stroke-width="' + w + '" stroke-linecap="round"/>').join('');
  }
  legendBox.appendChild(sw);
  const t = document.createElement('div');
  t.className = 'lg-text' + (row === 3 ? ' small' : '');
  t.style.left = textLeft[col] + 'px';
  t.style.top = (cy - 8.5) + 'px';
  t.textContent = e.text;
  legendBox.appendChild(t);
});
</script>
</body>
</html>
